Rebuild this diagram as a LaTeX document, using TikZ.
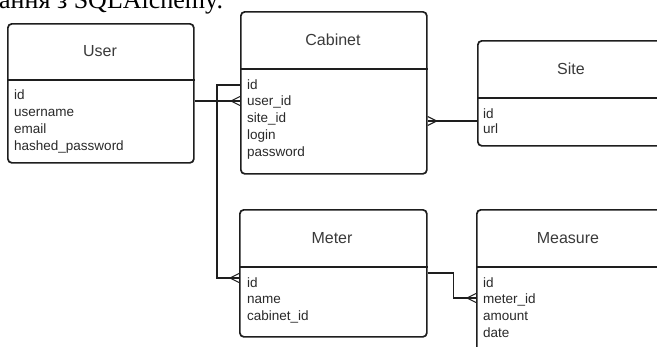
\documentclass[tikz,border=0pt]{standalone}
\usepackage{fontspec}
\setmainfont{Liberation Serif}
\newfontfamily\erfont{Liberation Sans}
\usetikzlibrary{calc}
\definecolor{edgec}{HTML}{1E1E1E}
\definecolor{ttlc}{HTML}{3A3A3A}
\definecolor{txtc}{HTML}{2A2A2A}
\tikzset{
  entity/.style={draw=edgec, line width=1.7pt, rounded corners=4pt, inner sep=0pt, anchor=north west},
  divider/.style={draw=edgec, line width=1.7pt},
  ttl/.style={font=\erfont\fontsize{16}{19}\selectfont, text=ttlc, inner sep=0pt},
  attr/.style={font=\erfont\fontsize{13.5}{16}\selectfont, text=txtc, inner sep=0pt, anchor=base west},
  conn/.style={draw=edgec, line width=1.1pt},
  crowfoot/.pic={\draw[conn] (-9,0) -- (0,-4.5) (-9,0) -- (0,4.5);}
}
\begin{document}
\begin{tikzpicture}[x=1pt,y=-1pt]
\useasboundingbox (0,0) rectangle (657,346);
\clip (0,0) rectangle (657,346);
\fill[white] (0,0) rectangle (657,346);

% caption fragment (cut off at the top, as in the reference)
\node[anchor=base west, inner sep=0pt, font=\fontsize{26}{30}\selectfont] (cap) at (-1,8) {ання з SQLAlchemy.};

% entities
\node[entity, minimum width=186pt, minimum height=139pt] (user) at (7,23) {};
\draw[divider] (user.west |- 0,80) -- (user.east |- 0,80);
\node[ttl] (usert) at (100,51.5) {User};
\foreach \t [count=\i] in {id,username,email,hashed\_password}
  \node[attr] (usera\i) at (14,{99.5+(\i-1)*16.9}) {\t};

\node[entity, minimum width=186pt, minimum height=162pt] (cab) at (240,11) {};
\draw[divider] (cab.west |- 0,69) -- (cab.east |- 0,69);
\node[ttl] (cabt) at (333,40) {Cabinet};
\foreach \t [count=\i] in {id,user\_id,site\_id,login,password}
  \node[attr] (caba\i) at (247,{89+(\i-1)*16.8}) {\t};

\node[entity, minimum width=188pt, minimum height=105pt] (site) at (477,40) {};
\draw[divider] (site.west |- 0,98) -- (site.east |- 0,98);
\node[ttl] (sitet) at (571,69) {Site};
\foreach \t [count=\i] in {id,url}
  \node[attr] (sitea\i) at (483,{118.3+(\i-1)*15}) {\t};

\node[entity, minimum width=187pt, minimum height=127pt] (meter) at (239,209) {};
\draw[divider] (meter.west |- 0,267) -- (meter.east |- 0,267);
\node[ttl] (metert) at (332,238) {Meter};
\foreach \t [count=\i] in {id,name,cabinet\_id}
  \node[attr] (metera\i) at (247,{287+(\i-1)*16.8}) {\t};

\node[entity, minimum width=186pt, minimum height=150pt] (measure) at (476,209) {};
\draw[divider] (measure.west |- 0,267) -- (measure.east |- 0,267);
\node[ttl] (measuret) at (568,238) {Measure};
\foreach \t [count=\i] in {id,meter\_id,amount,date}
  \node[attr] (measurea\i) at (483,{287+(\i-1)*16.8}) {\t};

% connectors
\coordinate (uc1) at (user.east |- 0,101);
\coordinate (uc2) at (cab.west |- 0,101);
\draw[conn] (uc1) -- (uc2);
\pic at (uc2) {crowfoot};

\coordinate (cm1) at (cab.west |- 0,85);
\coordinate (cm2) at (meter.west |- 0,278);
\draw[conn] (cm1) -- ++(-23,0) |- (cm2);
\pic at (cm2) {crowfoot};

\coordinate (sc1) at (site.west |- 0,121);
\coordinate (sc2) at (cab.east |- 0,121);
\draw[conn] (sc1) -- (sc2);
\pic[xscale=-1] at (sc2) {crowfoot};

\coordinate (mm1) at (meter.east |- 0,273);
\coordinate (mm2) at (measure.west |- 0,298);
\draw[conn] (mm1) -- ++(26,0) |- (mm2);
\pic at (mm2) {crowfoot};
\end{tikzpicture}
\end{document}
